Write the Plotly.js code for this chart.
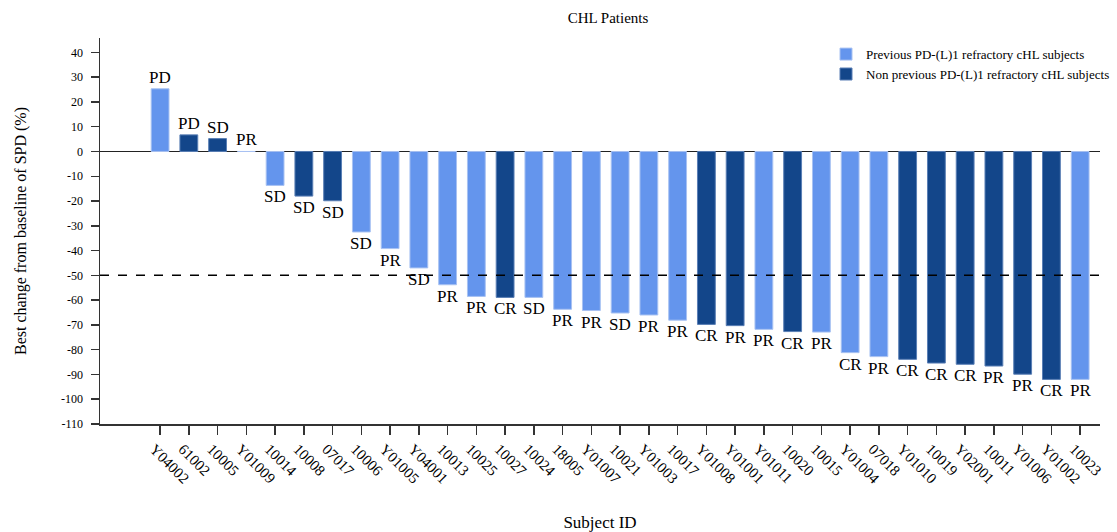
<!DOCTYPE html>
<html>
<head>
<meta charset="utf-8">
<script src="https://cdn.plot.ly/plotly-3.0.1.min.js"></script>
<style>html,body{margin:0;padding:0;background:#fff;}#chart{width:1117px;height:532px;}</style>
</head>
<body>
<div id="chart"></div>
<script>
const subjects = ["Y04002","61002","10005","Y01009","10014","10008","07017","10006","Y01005","Y04001","10013","10025","10027","10024","18005","Y01007","10021","Y01003","10017","Y01008","Y01001","Y01011","10020","10015","Y01004","07018","Y01010","10019","Y02001","10011","Y01006","Y01002","10023"];
const changes = [25.3,6.7,5.2,0,-13.7,-18.0,-19.9,-32.5,-39.2,-47.0,-53.8,-58.5,-58.9,-58.9,-63.7,-64.2,-65.2,-66.0,-68.1,-69.8,-70.3,-71.8,-72.7,-72.9,-81.2,-82.8,-83.9,-85.4,-85.9,-86.6,-89.9,-92.0,-92.0];
const responses = ["PD","PD","SD","PR","SD","SD","SD","SD","PR","SD","PR","PR","CR","SD","PR","PR","SD","PR","PR","CR","PR","PR","CR","PR","CR","PR","CR","CR","CR","PR","PR","CR","PR"];
// 1 = previous PD-(L)1 refractory, 0 = non previous
const previous = [1,0,0,1,1,0,0,1,1,1,1,1,0,1,1,1,1,1,1,0,0,1,0,1,1,1,0,0,0,0,0,0,1];
const groupNames = ["Non previous PD-(L)1 refractory cHL subjects","Previous PD-(L)1 refractory cHL subjects"];
const yTicks = [40,30,20,10,0,-10,-20,-30,-40,-50,-60,-70,-80,-90,-100,-110];
const threshold = -50;

const serif = "Liberation Serif, Times New Roman, serif";
const colors = {1:"#6495ED", 0:"#13468A"};
const lineColors = {1:"#a8c2f2", 0:"#5a7fb5"};

function makeTrace(g){
  const x=[], y=[];
  subjects.forEach((s,i)=>{ if(previous[i]===g){x.push(s); y.push(changes[i]);} });
  return {type:"bar", x:x, y:y, name:groupNames[g],
    marker:{color:colors[g], line:{color:lineColors[g], width:1}},
    hoverinfo:"x+y"};
}
const traces = [makeTrace(1), makeTrace(0)];

// category index used as annotation x (numeric-looking IDs would otherwise be misread)
const annotations = subjects.map((s,i)=>({
  x:i, y:changes[i], xref:"x", yref:"y", text:responses[i], showarrow:false,
  yanchor: changes[i] >= 0 ? "bottom" : "top",
  font:{family:serif, size:17, color:"#000"}
}));

const layout = {
  width:1117, height:532,
  margin:{l:100, r:17, t:38, b:108, autoexpand:false},
  paper_bgcolor:"#fff", plot_bgcolor:"#fff",
  font:{family:serif, color:"#000"},
  title:{text:"CHL Patients", x:0.508, xref:"paper", y:0.967, yref:"container", yanchor:"middle", font:{family:serif, size:15, color:"#000"}},
  barmode:"overlay", bargap:0.38,
  showlegend:true,
  legend:{x:1.015, xanchor:"right", y:0.997, yanchor:"top", bgcolor:"rgba(0,0,0,0)", font:{family:serif, size:13, color:"#000"}, traceorder:"normal", itemwidth:30, tracegroupgap:0},
  xaxis:{type:"category", categoryorder:"array", categoryarray:subjects, range:[-2.09, 32.69], automargin:false,
    tickangle:45, ticks:"outside", ticklen:9, tickcolor:"#333", tickwidth:1.5, ticklabelshift:-6,
    showline:true, linecolor:"#333", linewidth:1.5, showgrid:false, zeroline:false,
    tickfont:{family:serif, size:15, color:"#000"},
    title:{text:"Subject ID", font:{family:serif, size:17, color:"#000"}, standoff:32}},
  yaxis:{range:[-110, 45.8], tickvals:yTicks, ticktext:yTicks.map(String), ticks:"outside", ticklen:8, tickcolor:"#333", tickwidth:1.5,
    ticklabelstandoff:5, automargin:false,
    showline:true, linecolor:"#333", linewidth:1.5, showgrid:false,
    zeroline:true, zerolinecolor:"#222", zerolinewidth:1.5,
    tickfont:{family:serif, size:12, color:"#000"},
    title:{text:"Best change from baseline of SPD (%)", font:{family:serif, size:16, color:"#000"}, standoff:30}},
  shapes:[{type:"line", xref:"paper", x0:0, x1:1, yref:"y", y0:threshold, y1:threshold, line:{color:"#000", width:1.5, dash:"dash"}}],
  annotations:annotations
};
Plotly.newPlot("chart", traces, layout, {displayModeBar:false, staticPlot:true});
</script>
</body>
</html>
